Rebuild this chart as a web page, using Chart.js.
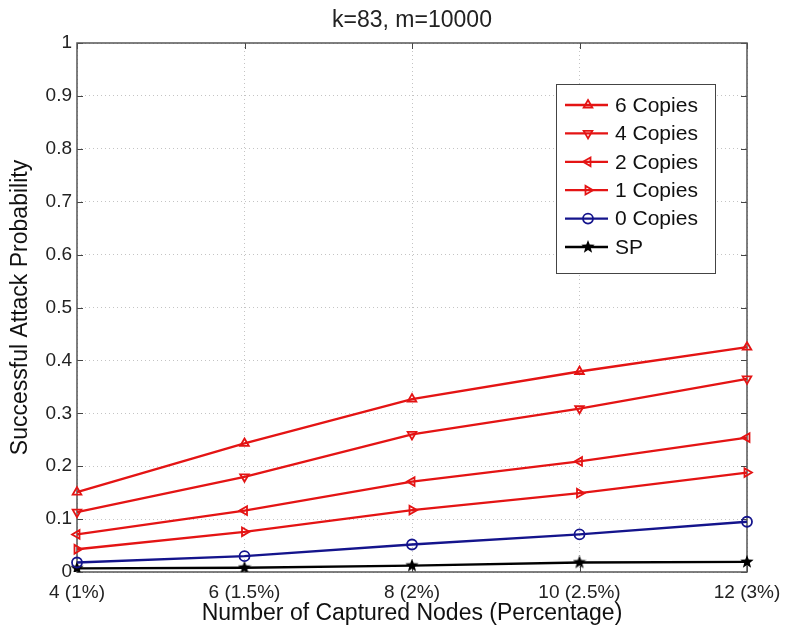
<!DOCTYPE html>
<html>
<head>
<meta charset="utf-8">
<script src="https://cdn.jsdelivr.net/npm/chart.js@4.4.0/dist/chart.umd.min.js"></script>
<style>
  html, body { margin: 0; padding: 0; background: #fff; }
  #wrap { width: 785px; height: 627px; }
</style>
</head>
<body>
<div id="wrap"><canvas id="myChart" width="785" height="627"></canvas></div>
<script>
// data
var labels = ['4 (1%)', '6 (1.5%)', '8 (2%)', '10 (2.5%)', '12 (3%)'];
var copies6 = [0.151, 0.243, 0.327, 0.379, 0.425];
var copies4 = [0.113, 0.180, 0.260, 0.309, 0.365];
var copies2 = [0.071, 0.116, 0.171, 0.209, 0.254];
var copies1 = [0.043, 0.076, 0.117, 0.149, 0.188];
var copies0 = [0.018, 0.030, 0.052, 0.071, 0.095];
var sp = [0.007, 0.008, 0.012, 0.018, 0.019];
var yTicks = [0, 0.1, 0.2, 0.3, 0.4, 0.5, 0.6, 0.7, 0.8, 0.9, 1];

var FONT = '"Liberation Sans", Arial, Helvetica, sans-serif';
var RED = 'rgb(228,20,20)';
var BLUE = 'rgb(20,20,140)';

// filled star marker for SP
function makeStar(size) {
  var c = document.createElement('canvas');
  c.width = size; c.height = size;
  var g = c.getContext('2d');
  var cx = size / 2, cy = size / 2, ro = size / 2, ri = ro * 0.42;
  g.beginPath();
  for (var i = 0; i < 10; i++) {
    var r = i % 2 ? ri : ro;
    var a = -Math.PI / 2 + i * Math.PI / 5;
    g.lineTo(cx + r * Math.cos(a), cy + r * Math.sin(a));
  }
  g.closePath();
  g.fillStyle = '#000';
  g.fill();
  return c;
}
var star = makeStar(14);

function ds(label, data, color, style, rot) {
  return {
    label: label,
    data: data,
    borderColor: color,
    backgroundColor: 'rgba(255,255,255,0)',
    borderWidth: 2.3,
    pointStyle: style,
    rotation: rot,
    pointRadius: 5,
    pointBorderWidth: 1.8,
    pointBorderColor: color,
    fill: false,
    tension: 0
  };
}

var datasets = [
  ds('6 Copies', copies6, RED, 'triangle', 0),
  ds('4 Copies', copies4, RED, 'triangle', 180),
  ds('2 Copies', copies2, RED, 'triangle', 270),
  ds('1 Copies', copies1, RED, 'triangle', 90),
  ds('0 Copies', copies0, BLUE, 'circle', 0),
  ds('SP', sp, '#000', star, 0)
];

// frame, inward ticks, title and boxed legend
var decor = {
  id: 'decor',
  beforeDatasetsDraw: function (chart) {
    var ctx = chart.ctx, a = chart.chartArea;
    var xs = chart.scales.x, ys = chart.scales.y;
    ctx.save();
    ctx.strokeStyle = '#444';
    ctx.lineWidth = 1;
    ctx.beginPath();
    yTicks.forEach(function (v) {
      var y = Math.round(ys.getPixelForValue(v)) + 0.5;
      ctx.moveTo(a.left, y); ctx.lineTo(a.left + 6, y);
      ctx.moveTo(a.right, y); ctx.lineTo(a.right - 6, y);
    });
    labels.forEach(function (l, i) {
      var x = Math.round(xs.getPixelForValue(i)) + 0.5;
      ctx.moveTo(x, a.bottom); ctx.lineTo(x, a.bottom - 6);
      ctx.moveTo(x, a.top); ctx.lineTo(x, a.top + 6);
    });
    ctx.stroke();
    ctx.lineWidth = 1.5;
    ctx.strokeStyle = '#555';
    ctx.strokeRect(a.left, a.top, a.right - a.left, a.bottom - a.top);
    ctx.restore();
  },
  afterDraw: function (chart) {
    var ctx = chart.ctx, a = chart.chartArea;
    ctx.save();
    ctx.fillStyle = '#222';
    ctx.font = '23px ' + FONT;
    ctx.textAlign = 'center';
    ctx.textBaseline = 'alphabetic';
    ctx.fillText('k=83, m=10000', (a.left + a.right) / 2, 27);

    // legend box
    var bx = a.right - 191, by = a.top + 41, bw = 159, bh = 189;
    ctx.fillStyle = '#fff';
    ctx.fillRect(bx, by, bw, bh);
    ctx.strokeStyle = '#444';
    ctx.lineWidth = 1;
    ctx.strokeRect(bx + 0.5, by + 0.5, bw, bh);
    chart.data.datasets.forEach(function (d, i) {
      var y = by + 21 + i * 28.4;
      ctx.strokeStyle = d.borderColor;
      ctx.lineWidth = d.borderWidth;
      ctx.beginPath();
      ctx.moveTo(bx + 9, y); ctx.lineTo(bx + 52, y);
      ctx.stroke();
      ctx.lineWidth = d.pointBorderWidth;
      ctx.fillStyle = 'rgba(255,255,255,0)';
      Chart.helpers.drawPoint(ctx, {
        pointStyle: d.pointStyle, rotation: d.rotation,
        radius: d.pointRadius, borderWidth: d.pointBorderWidth
      }, bx + 32, y);
      ctx.fillStyle = '#111';
      ctx.font = '21px ' + FONT;
      ctx.textAlign = 'left';
      ctx.textBaseline = 'middle';
      ctx.fillText(d.label, bx + 59, y + 1);
    });
    ctx.restore();
  }
};

var ctx = document.getElementById('myChart').getContext('2d');
var myChart = new Chart(ctx, {
  type: 'line',
  data: { labels: labels, datasets: datasets },
  plugins: [decor],
  options: {
    responsive: false,
    animation: false,
    layout: { padding: { top: 43, right: 38, left: 0, bottom: 0 } },
    plugins: {
      legend: { display: false },
      title: { display: false },
      tooltip: { enabled: false }
    },
    scales: {
      x: {
        offset: false,
        grid: { color: '#c4c4c4', drawTicks: false },
        border: { display: false, dash: [1, 3] },
        ticks: { color: '#222', font: { family: FONT, size: 19 }, padding: 9, maxRotation: 0, autoSkip: false },
        title: { display: true, text: 'Number of Captured Nodes (Percentage)', color: '#111', font: { family: FONT, size: 23 }, padding: { top: 0, bottom: 0 } },
        afterFit: function (s) {
          s.height = 55;
          // let the last label hang past the frame
          s.paddingRight = 0;
          s.paddingLeft = 0;
        }
      },
      y: {
        min: 0, max: 1,
        afterBuildTicks: function (s) { s.ticks = yTicks.map(function (v) { return { value: v }; }); },
        grid: { color: '#c4c4c4', drawTicks: false },
        border: { display: false, dash: [1, 3] },
        ticks: {
          color: '#222', font: { family: FONT, size: 19 }, padding: 5,
          callback: function (v) { return String(Math.round(v * 10) / 10); }
        },
        title: { display: true, text: 'Successful Attack Probability', color: '#111', font: { family: FONT, size: 23 }, padding: { top: 7, bottom: 0 } },
        afterFit: function (s) { s.width = 77; }
      }
    }
  }
});
</script>
</body>
</html>
